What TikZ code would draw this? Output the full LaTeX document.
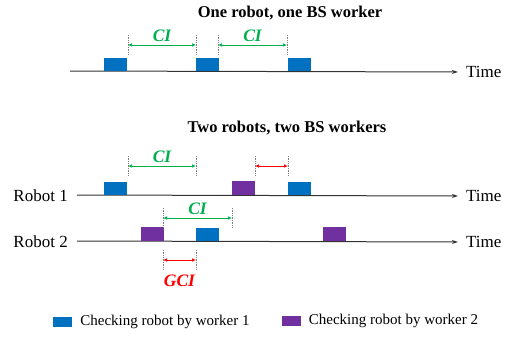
\documentclass[tikz,border=0pt]{standalone}
\usepackage{fontspec}
\setmainfont{Liberation Serif}
\usetikzlibrary{arrows.meta,positioning}
\definecolor{wblue}{RGB}{0,112,192}
\definecolor{wpurple}{RGB}{112,48,160}
\definecolor{cigreen}{RGB}{0,176,80}
\begin{document}
\begin{tikzpicture}[x=1pt,y=-1pt]
    \tikzstyle{axis}=[draw=black!80,line width=1pt,shorten >=8pt,-{Stealth[length=6pt,width=4pt]}]
    \tikzstyle{wone}=[fill=wblue,minimum width=23pt,minimum height=13pt,inner sep=0pt,anchor=south west]
    \tikzstyle{wtwo}=[wone,fill=wpurple,minimum height=14pt]
    \tikzstyle{tick}=[draw=gray,densely dotted,line width=0.7pt]
    \tikzstyle{ci}=[draw=cigreen,line width=0.7pt,{Latex[length=4pt,width=3.5pt]}-{Latex[length=4pt,width=3.5pt]}]
    \tikzstyle{gci}=[ci,draw=red]
    \tikzstyle{lbl}=[font=\fontsize{17}{17}\selectfont,inner sep=0pt]
    \tikzstyle{head}=[font=\fontsize{16.5}{16.5}\selectfont\bfseries]
    \tikzstyle{cilbl}=[text=cigreen,font=\fontsize{17.5}{17.5}\selectfont\bfseries\itshape]
    \tikzstyle{key}=[minimum width=19pt,minimum height=10pt,inner sep=0pt]
    \tikzstyle{keytext}=[font=\fontsize{15}{15}\selectfont,inner sep=0pt]
    \useasboundingbox (0,0) rectangle (514,338);

    % one robot, one worker
    \node[head] (t1) at (290,13) {One robot, one BS worker};
    \coordinate (s0) at (70,71);
    \node[lbl,anchor=west] (time0) at (466,72) {Time};
    \draw[axis] (s0) -- (time0.west);
    \node[wone] (a1) at (104,71) {};
    \node[wone] (a2) at (196,71) {};
    \node[wone] (a3) at (288,71) {};
    \coordinate (p1) at (128,45);
    \coordinate (p2) at (196,45);
    \coordinate (p3) at (218,45);
    \coordinate (p4) at (287,45);
    \foreach \p in {p1,p2,p3,p4}
      \draw[tick] ([yshift=10pt]\p) -- ([yshift=-10pt]\p);
    \draw[ci] (p1) -- node[cilbl,above=0pt] {CI} (p2);
    \draw[ci] (p3) -- node[cilbl,above=0pt] {CI} (p4);

    % two robots, two workers
    \node[head] (t2) at (287,128) {Two robots, two BS workers};
    \node[lbl,anchor=east] (r1) at (68,196) {Robot 1};
    \node[lbl,anchor=west] (time1) at (466,196) {Time};
    \coordinate (s1) at (77,195);
    \draw[axis] (s1) -- (time1.west);
    \node[wone] (b1) at (104,195) {};
    \node[wtwo] (b2) at (232,195) {};
    \node[wone] (b3) at (288,195) {};
    \node[lbl,anchor=east] (r2) at (68,242) {Robot 2};
    \node[lbl,anchor=west] (time2) at (466,242) {Time};
    \coordinate (s2) at (77,241);
    \draw[axis] (s2) -- (time2.west);
    \node[wtwo] (c1) at (141,241) {};
    \node[wone] (c2) at (196,241) {};
    \node[wtwo] (c3) at (323,241) {};

    \coordinate (q1) at (128,166);
    \coordinate (q2) at (196,166);
    \coordinate (q3) at (255,166);
    \coordinate (q4) at (288,166);
    \coordinate (q5) at (163,218);
    \coordinate (q6) at (232,218);
    \coordinate (q7) at (163,260);
    \coordinate (q8) at (196,260);
    \foreach \p in {q1,q2,q3,q4,q5,q6,q7,q8}
      \draw[tick] ([yshift=10pt]\p) -- ([yshift=-10pt]\p);
    \draw[ci] (q1) -- node[cilbl,above=0pt] {CI} (q2);
    \draw[gci] (q3) -- (q4);
    \draw[ci] (q5) -- node[cilbl,above=0pt] {CI} (q6);
    \draw[gci] (q7) -- node[cilbl,text=red,below=11pt] {GCI} (q8);

    % legend
    \node[key,fill=wblue] (k1) at (62.5,322) {};
    \node[keytext,right=8pt of k1] (k1t) {Checking robot by worker 1};
    \node[key,fill=wpurple] (k2) at (291,321) {};
    \node[keytext,right=8pt of k2] (k2t) {Checking robot by worker 2};
\end{tikzpicture}
\end{document}
